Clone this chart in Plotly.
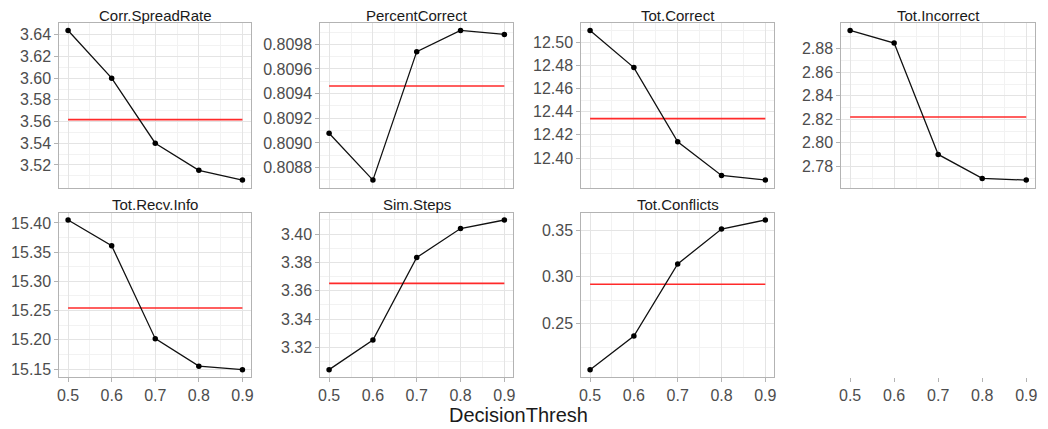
import plotly.graph_objects as go

decision_thresh = [0.5, 0.6, 0.7, 0.8, 0.9]
x_tick_labels = ["0.5", "0.6", "0.7", "0.8", "0.9"]

panel_titles = ["Corr.SpreadRate", "PercentCorrect", "Tot.Correct", "Tot.Incorrect",
                "Tot.Recv.Info", "Sim.Steps", "Tot.Conflicts"]

corr_spread_rate = [3.644, 3.600, 3.540, 3.515, 3.506]
percent_correct = [0.809078, 0.808698, 0.809741, 0.809913, 0.809881]
tot_correct = [12.510, 12.478, 12.414, 12.385, 12.381]
tot_incorrect = [2.8955, 2.8848, 2.7902, 2.7698, 2.7684]
tot_recv_info = [15.405, 15.361, 15.202, 15.155, 15.149]
sim_steps = [3.3043, 3.3252, 3.3835, 3.4040, 3.4100]
tot_conflicts = [0.2010, 0.2369, 0.3138, 0.3510, 0.3607]

reference_means = [3.5618, 0.809462, 12.434, 2.822, 15.2545, 3.3652, 0.2922]

y_tick_values = [
    [3.52, 3.54, 3.56, 3.58, 3.60, 3.62, 3.64],
    [0.8088, 0.8090, 0.8092, 0.8094, 0.8096, 0.8098],
    [12.40, 12.42, 12.44, 12.46, 12.48, 12.50],
    [2.78, 2.80, 2.82, 2.84, 2.86, 2.88],
    [15.15, 15.20, 15.25, 15.30, 15.35, 15.40],
    [3.32, 3.34, 3.36, 3.38, 3.40],
    [0.25, 0.30, 0.35],
]
y_formats = [".2f", ".4f", ".2f", ".2f", ".2f", ".2f", ".2f"]

series = [corr_spread_rate, percent_correct, tot_correct, tot_incorrect,
          tot_recv_info, sim_steps, tot_conflicts]

# the page body has an 8px margin: the figure sits at (8, 8) of the window.
# Only up to about x=1040 of the window is visible, so window x positions
# taken from the reference are squeezed slightly to fit.
OFF = 8
W, H = 1048 - OFF, 429 - OFF
VISIBLE_RIGHT = 1040
XSCALE = VISIBLE_RIGHT / 1048
col_px = [(58, 252), (322, 517), (586, 781), (849, 1045)]
row_px = [(23, 188), (213, 378)]
title_y_px = [16, 205]
xtitle_px = (522, 416)

BORDER = "#b3b3b3"
GRID = "#e4e4e4"
MINOR = "#f2f2f2"
TICKTXT = "#4d4d4d"
FONT = "Liberation Sans, Arial, sans-serif"


def xd(px):
    return (px * XSCALE - OFF) / W


def yd(px):
    return 1 - (px - OFF) / H


fig = go.Figure()
layout = {}
annotations = []

xmin, xmax = min(decision_thresh), max(decision_thresh)
xpad = (xmax - xmin) * 0.05

for i, vals in enumerate(series):
    r, c = divmod(i, 4)
    k = i + 1
    xa = "x" if k == 1 else f"x{k}"
    ya = "y" if k == 1 else f"y{k}"
    fig.add_trace(go.Scatter(
        x=[xmin, xmax], y=[reference_means[i]] * 2, mode="lines",
        line=dict(color="#ff2a2a", width=1.6), xaxis=xa, yaxis=ya,
        showlegend=False, hoverinfo="skip"))
    fig.add_trace(go.Scatter(
        x=decision_thresh, y=vals, mode="lines+markers",
        line=dict(color="#111111", width=1.3),
        marker=dict(color="#000000", size=5.5),
        xaxis=xa, yaxis=ya, showlegend=False))

    lo, hi = min(vals), max(vals)
    pad = (hi - lo) * 0.05
    tv = y_tick_values[i]
    step = tv[1] - tv[0]
    bottom_row = (r == 1)
    layout["xaxis" if k == 1 else f"xaxis{k}"] = dict(
        domain=[xd(col_px[c][0]), xd(col_px[c][1])],
        anchor=ya, range=[xmin - xpad, xmax + xpad],
        tickmode="array", tickvals=decision_thresh, ticktext=x_tick_labels,
        showticklabels=bottom_row, ticks="outside" if bottom_row else "",
        ticklen=4, tickcolor=BORDER,
        tickfont=dict(size=16, color=TICKTXT, family=FONT),
        showgrid=True, gridcolor=GRID, gridwidth=1,
        minor=dict(showgrid=True, gridcolor=MINOR, gridwidth=0.6,
                   tickmode="linear", tick0=0.45, dtick=0.1),
        showline=True, mirror=True, linecolor=BORDER, linewidth=1,
        zeroline=False, fixedrange=True)
    layout["yaxis" if k == 1 else f"yaxis{k}"] = dict(
        domain=[yd(row_px[r][1]), yd(row_px[r][0])],
        anchor=xa, range=[lo - pad, hi + pad],
        tickmode="array", tickvals=tv, tickformat=y_formats[i],
        ticks="outside", ticklen=4, tickcolor=BORDER,
        tickfont=dict(size=16, color=TICKTXT, family=FONT),
        showgrid=True, gridcolor=GRID, gridwidth=1,
        minor=dict(showgrid=True, gridcolor=MINOR, gridwidth=0.6,
                   tickmode="linear", tick0=tv[0] - step / 2, dtick=step),
        showline=True, mirror=True, linecolor=BORDER, linewidth=1,
        zeroline=False, fixedrange=True)
    annotations.append(dict(
        text=panel_titles[i], x=(xd(col_px[c][0]) + xd(col_px[c][1])) / 2,
        y=yd(title_y_px[r]), xref="paper", yref="paper",
        xanchor="center", yanchor="middle", showarrow=False,
        font=dict(size=15, color="#1a1a1a", family=FONT)))

# empty 8th slot carrying the x axis under Tot.Incorrect
fig.add_trace(go.Scatter(x=[None], y=[None], xaxis="x8", yaxis="y8",
                         showlegend=False, hoverinfo="skip"))
layout["xaxis8"] = dict(
    domain=[xd(col_px[3][0]), xd(col_px[3][1])], anchor="y8",
    range=[xmin - xpad, xmax + xpad],
    tickmode="array", tickvals=decision_thresh, ticktext=x_tick_labels,
    ticks="outside", ticklen=4, tickcolor=BORDER,
    tickfont=dict(size=16, color=TICKTXT, family=FONT),
    showgrid=False, showline=False, zeroline=False, fixedrange=True)
layout["yaxis8"] = dict(
    domain=[yd(row_px[1][1]), yd(row_px[1][0])], anchor="x8",
    visible=False, range=[0, 1], fixedrange=True)

annotations.append(dict(
    text="DecisionThresh", x=xd(xtitle_px[0]), y=yd(xtitle_px[1]),
    xref="paper", yref="paper",
    xanchor="center", yanchor="middle", showarrow=False,
    font=dict(size=20, color="#1a1a1a", family=FONT)))

fig.update_layout(
    width=W, height=H, margin=dict(l=0, r=0, t=0, b=0),
    paper_bgcolor="white", plot_bgcolor="white",
    annotations=annotations, **layout)

fig.write_html("out.html")
